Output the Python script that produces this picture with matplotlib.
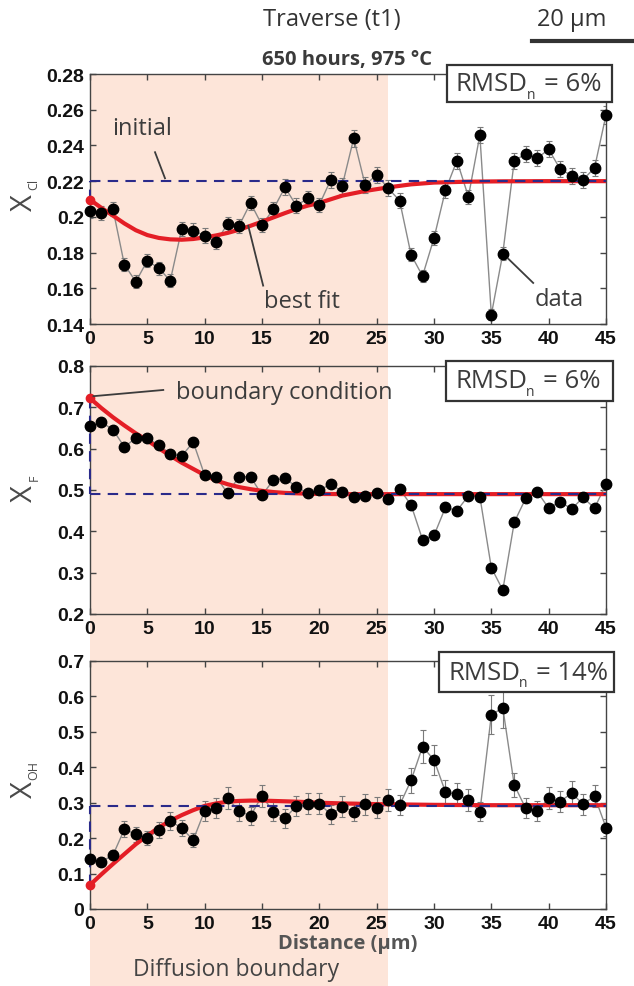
import matplotlib
matplotlib.use("Agg")
import matplotlib.pyplot as plt
from matplotlib.patches import Rectangle
from matplotlib.lines import Line2D
from matplotlib.transforms import blended_transform_factory

# ---------------- data ----------------
distance = list(range(46))

x_cl = [0.2035, 0.2022, 0.2044, 0.1732, 0.1637, 0.1755, 0.1712, 0.1643, 0.1932, 0.1923,
        0.1895, 0.1861, 0.1960, 0.1950, 0.2078, 0.1954, 0.2044, 0.2165, 0.2063, 0.2104,
        0.2068, 0.2208, 0.2175, 0.2440, 0.2178, 0.2236, 0.2160, 0.2091, 0.1788, 0.1669,
        0.1881, 0.2149, 0.2315, 0.2113, 0.2458, 0.1452, 0.1794, 0.2315, 0.2352, 0.2328,
        0.2378, 0.2268, 0.2231, 0.2208, 0.2274, 0.2570]
err_cl = [0.004, 0.004, 0.004, 0.0035, 0.0035, 0.0035, 0.0035, 0.0035, 0.004, 0.004,
          0.004, 0.004, 0.004, 0.004, 0.004, 0.004, 0.004, 0.0045, 0.004, 0.004,
          0.004, 0.0045, 0.0045, 0.0047, 0.0045, 0.0045, 0.0045, 0.004, 0.0035, 0.0035,
          0.004, 0.0045, 0.0045, 0.004, 0.0047, 0.003, 0.0035, 0.0045, 0.0045, 0.0045,
          0.0045, 0.0045, 0.0045, 0.0045, 0.0045, 0.005]

x_f = [0.654, 0.664, 0.646, 0.604, 0.626, 0.626, 0.608, 0.588, 0.582, 0.616,
       0.536, 0.532, 0.492, 0.532, 0.532, 0.488, 0.524, 0.528, 0.508, 0.492,
       0.500, 0.514, 0.496, 0.484, 0.486, 0.492, 0.478, 0.502, 0.464, 0.380,
       0.390, 0.458, 0.450, 0.486, 0.484, 0.312, 0.258, 0.422, 0.480, 0.496,
       0.456, 0.472, 0.454, 0.482, 0.456, 0.514]

x_oh = [0.140, 0.134, 0.152, 0.225, 0.211, 0.200, 0.223, 0.249, 0.228, 0.195,
        0.277, 0.284, 0.312, 0.277, 0.263, 0.319, 0.274, 0.256, 0.291, 0.297,
        0.297, 0.267, 0.289, 0.275, 0.296, 0.286, 0.308, 0.293, 0.363, 0.458,
        0.421, 0.330, 0.324, 0.308, 0.275, 0.548, 0.568, 0.350, 0.284, 0.277,
        0.312, 0.303, 0.327, 0.296, 0.319, 0.230]
err_oh = [0.014, 0.013, 0.015, 0.022, 0.021, 0.020, 0.022, 0.025, 0.023, 0.020,
          0.028, 0.028, 0.031, 0.028, 0.026, 0.032, 0.027, 0.026, 0.029, 0.030,
          0.030, 0.027, 0.029, 0.028, 0.030, 0.029, 0.031, 0.029, 0.036, 0.046,
          0.042, 0.033, 0.032, 0.031, 0.028, 0.055, 0.057, 0.035, 0.028, 0.028,
          0.031, 0.030, 0.033, 0.030, 0.032, 0.023]

cl_fit_x = [0, 1, 2, 3, 4, 5, 6, 7, 8, 9, 10, 11, 12, 13, 14, 15, 16, 17, 18, 19, 20,
            22, 24, 26, 28, 30, 33, 36, 40, 45]
cl_fit = [0.2096, 0.2050, 0.2007, 0.1963, 0.1925, 0.1898, 0.1882, 0.1874, 0.1872, 0.1876,
          0.1885, 0.1896, 0.1910, 0.1928, 0.1950, 0.1973, 0.1997, 0.2021, 0.2044, 0.2063,
          0.2078, 0.2119, 0.2145, 0.2165, 0.2182, 0.2192, 0.2197, 0.2199, 0.2200, 0.2200]

f_fit_x = [0, 1, 2, 3, 4, 5, 6, 7, 8, 9, 10, 11, 12, 13, 14, 15, 16, 17, 18, 19, 20,
           22, 25, 30, 35, 40, 45]
f_fit = [0.722, 0.698, 0.676, 0.656, 0.637, 0.620, 0.601, 0.583, 0.566, 0.551,
         0.536, 0.523, 0.514, 0.507, 0.502, 0.498, 0.495, 0.493, 0.492, 0.491,
         0.4905, 0.490, 0.490, 0.490, 0.490, 0.490, 0.490]

oh_fit_x = [0, 1, 2, 3, 4, 5, 6, 7, 8, 9, 10, 11, 12, 13, 14, 15, 16,
            18, 20, 22, 25, 30, 35, 40, 45]
oh_fit = [0.068, 0.098, 0.127, 0.155, 0.183, 0.207, 0.230, 0.249, 0.265, 0.279,
          0.291, 0.298, 0.303, 0.305, 0.306, 0.306, 0.305,
          0.303, 0.300, 0.298, 0.296, 0.294, 0.293, 0.293, 0.293]

initial_cl = 0.22
initial_f = 0.49
initial_oh = 0.292
boundary_width = 26

rmsd_values = ['6%', '6%', '14%']

cl_ticks = [0.14, 0.16, 0.18, 0.2, 0.22, 0.24, 0.26, 0.28]
cl_ticklabels = ['0.14', '0.16', '0.18', '0.2', '0.22', '0.24', '0.26', '0.28']
f_ticks = [0.2, 0.3, 0.4, 0.5, 0.6, 0.7, 0.8]
f_ticklabels = ['0.2', '0.3', '0.4', '0.5', '0.6', '0.7', '0.8']
oh_ticks = [0, 0.1, 0.2, 0.3, 0.4, 0.5, 0.6, 0.7]
oh_ticklabels = ['0', '0.1', '0.2', '0.3', '0.4', '0.5', '0.6', '0.7']
x_ticks = [0, 5, 10, 15, 20, 25, 30, 35, 40, 45]

# ---------------- layout ----------------
W, H = 634, 987
fig = plt.figure(figsize=(W / 100, H / 100), dpi=100)
renderer = fig.canvas.get_renderer()


def fx(px):
    return px / W


def fy(py):
    return 1 - py / H


def axes_px(left, top, right, bottom):
    return [fx(left), fy(bottom), (right - left) / W, (bottom - top) / H]


ax1 = fig.add_axes(axes_px(90, 75, 606, 325))
ax2 = fig.add_axes(axes_px(90, 367, 606, 615))
ax3 = fig.add_axes(axes_px(90, 662, 606, 910))

TEXT = '#3c3c3c'
SHADE = '#fde5d9'
RED = '#e41e26'
NAVY = '#2a2a8a'

# shaded diffusion boundary across the whole column
trans = blended_transform_factory(ax3.transData, fig.transFigure)
shade = Rectangle((0, 0), boundary_width, fy(75), transform=trans,
                  facecolor=SHADE, edgecolor='none', zorder=-5)
fig.add_artist(shade)

panels = [
    (ax1, x_cl, err_cl, cl_fit_x, cl_fit, initial_cl, (0.14, 0.28), cl_ticks, cl_ticklabels),
    (ax2, x_f, None, f_fit_x, f_fit, initial_f, (0.2, 0.8), f_ticks, f_ticklabels),
    (ax3, x_oh, err_oh, oh_fit_x, oh_fit, initial_oh, (0, 0.7), oh_ticks, oh_ticklabels),
]

for ax, vals, errs, fxs, fvals, init, ylim, yt, ytl in panels:
    ax.set_facecolor('none')
    ax.set_xlim(0, 45)
    ax.set_ylim(*ylim)
    ax.plot(distance, vals, color='#8a8a8a', lw=1.0, zorder=2, clip_on=False)
    if errs is not None:
        ax.errorbar(distance, vals, yerr=errs, fmt='none', ecolor='#7a7a7a',
                    elinewidth=0.8, capsize=2.5, capthick=0.8, zorder=2)
    ax.plot(fxs, fvals, color=RED, lw=3.0, zorder=3, solid_capstyle='round')
    ax.plot([0, 45], [init, init], color=NAVY, lw=1.5, dashes=(5, 3.5), zorder=4)
    ax.plot([0, 0], [fvals[0], init], color=NAVY, lw=1.5, dashes=(5, 3.5), zorder=4,
            clip_on=False)
    ax.plot(distance, vals, 'o', color='black', ms=7.5, zorder=5, clip_on=False)
    ax.plot([fxs[0]], [fvals[0]], 'o', color=RED, mec=RED, ms=6, zorder=6, clip_on=False)
    ax.set_xticks(x_ticks)
    ax.set_xticklabels([str(t) for t in x_ticks])
    ax.set_yticks(yt)
    ax.set_yticklabels(ytl)
    ax.tick_params(direction='in', length=4, width=1, top=True, right=True,
                   color='#444444', pad=4)
    for lab in ax.get_xticklabels() + ax.get_yticklabels():
        lab.set_fontfamily('Liberation Sans')
        lab.set_fontweight('bold')
        lab.set_fontsize(14)
        lab.set_color('#111111')
    for sp in ax.spines.values():
        sp.set_color('#444444')
        sp.set_linewidth(1.0)

# y labels (X with subscript)
ylabels = [('X', 'Cl', 203, 184), ('X', 'F', 494, 478), ('X', 'OH', 790, 771)]
for main, sub, ym, ys in ylabels:
    fig.text(fx(24), fy(ym), main, rotation=90, fontsize=21, family='Open Sans',
             color='#4a4a4a', ha='center', va='center')
    fig.text(fx(34), fy(ys), sub, rotation=90, fontsize=9, family='Open Sans',
             color='#4a4a4a', ha='center', va='center')

# annotations
ann_kw = dict(fontsize=17, family='Open Sans', color=TEXT)
ax1.text(1.9, 0.2495, 'initial', ha='left', va='center', **ann_kw)
ax1.plot([5.67, 6.54], [0.2362, 0.2216], color=TEXT, lw=1.3, zorder=6)
ax1.text(15.2, 0.1530, 'best fit', ha='left', va='center', **ann_kw)
ax1.plot([15.1, 13.8], [0.1615, 0.1950], color=TEXT, lw=1.3, zorder=6)
ax1.text(38.8, 0.1540, 'data', ha='left', va='center', **ann_kw)
ax1.plot([38.65, 36.5], [0.1630, 0.1764], color=TEXT, lw=1.3, zorder=6)
ax2.text(7.5, 0.737, 'boundary condition', ha='left', va='center', **ann_kw)
ax2.plot([6.39, 0.3], [0.742, 0.727], color=TEXT, lw=1.3, zorder=6)

# RMSD boxes
boxes = [(447, 66, 612, 103), (446, 362, 613, 402), (439, 653, 614, 693)]
for (l, t, r, b), val in zip(boxes, rmsd_values):
    fig.add_artist(Rectangle((fx(l), fy(b)), (r - l) / W, (b - t) / H,
                             transform=fig.transFigure, facecolor='white',
                             edgecolor='#333333', lw=1.6, zorder=10))
    cy = (t + b) / 2
    t1 = fig.text(fx(l + 9), fy(cy), 'RMSD', fontsize=18.5, family='Open Sans',
                  color=TEXT, ha='left', va='center', zorder=11)
    bb = t1.get_window_extent(renderer)
    x_end = bb.x1  # pixels from left
    fig.text(fx(x_end - 1), fy(cy + 11), 'n', fontsize=10, family='Open Sans',
             color=TEXT, ha='left', va='center', zorder=11)
    fig.text(fx(x_end + 16), fy(cy), '= ' + val, fontsize=18.5, family='Open Sans',
             color=TEXT, ha='left', va='center', zorder=11)

# header texts
fig.text(fx(332), fy(20), 'Traverse (t1)', fontsize=17, family='Open Sans',
         color='#333333', ha='center', va='center')
fig.text(fx(572), fy(20), '20 µm', fontsize=17, family='Open Sans',
         color='#333333', ha='center', va='center')
fig.add_artist(Line2D([fx(532), fx(634)], [fy(42), fy(42)], color='#333333', lw=3,
                      transform=fig.transFigure))
fig.text(fx(347), fy(60), '650 hours, 975 °C', fontsize=14.5, family='Open Sans',
         weight='bold', color='#3a3a3a', ha='center', va='center')

# footer texts
fig.text(fx(348), fy(944), 'Distance (µm)', fontsize=14.5, family='Open Sans',
         weight='bold', color='#555555', ha='center', va='center')
fig.text(fx(236), fy(970), 'Diffusion boundary', fontsize=16.5, family='Open Sans',
         color='#444444', ha='center', va='center')

fig.savefig('out.png', dpi=100)
